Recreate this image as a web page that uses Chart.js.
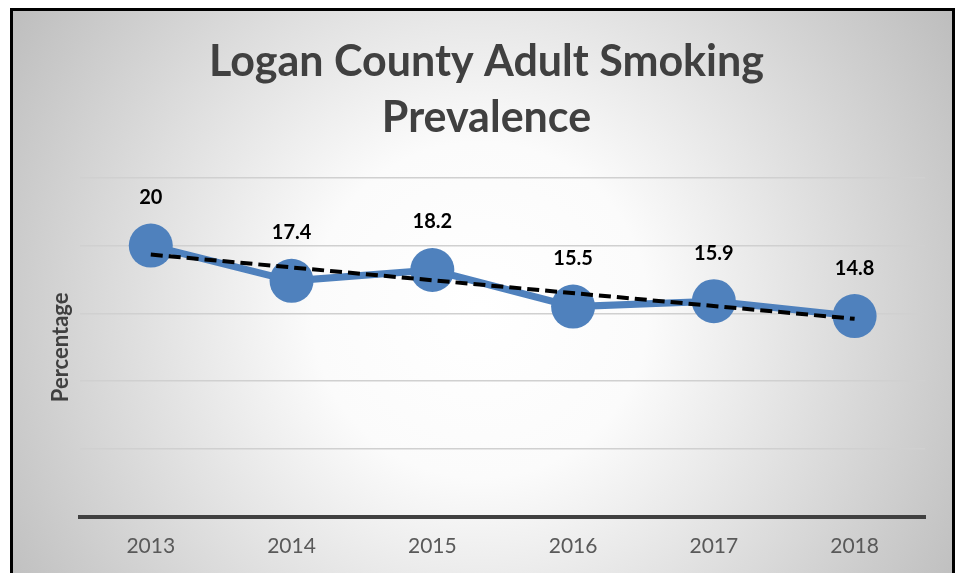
<!DOCTYPE html>
<html><head><meta charset="utf-8">
<script src="https://cdn.jsdelivr.net/npm/chart.js@4/dist/chart.umd.min.js"></script>
<style>html,body{margin:0;padding:0;background:#fff;}canvas{display:block;}</style>
</head><body>
<canvas id="c" width="961" height="573"></canvas>
<script>
const years = ['2013','2014','2015','2016','2017','2018'];
const prevalence = [20, 17.4, 18.2, 15.5, 15.9, 14.8];
const trendline = [19.34, null, null, null, null, 14.6];
const titleLines = ['Logan County Adult Smoking', 'Prevalence'];
const yTitle = 'Percentage';

const FONT = 'Lato, "Open Sans", sans-serif';

const bgPlugin = {
  id: 'bg',
  beforeDraw(chart) {
    const ctx = chart.ctx;
    ctx.save();
    ctx.fillStyle = '#ffffff';
    ctx.fillRect(0, 0, 961, 573);
    const g = ctx.createRadialGradient(480, 310, 0, 480, 310, 560);
    g.addColorStop(0, '#ffffff');
    g.addColorStop(0.3, '#fbfbfb');
    g.addColorStop(1, '#bdbdbd');
    ctx.fillStyle = g;
    ctx.fillRect(11, 10, 943, 600);
    ctx.strokeStyle = '#000';
    ctx.lineWidth = 3;
    ctx.strokeRect(11.5, 9.5, 942, 620);
    ctx.restore();
  }
};

const labelPlugin = {
  id: 'vlabels',
  afterDatasetsDraw(chart) {
    const ctx = chart.ctx;
    const meta = chart.getDatasetMeta(1);
    ctx.save();
    ctx.font = 'bold 20px ' + FONT;
    ctx.fillStyle = '#000';
    ctx.textAlign = 'center';
    ctx.textBaseline = 'middle';
    meta.data.forEach((pt, i) => {
      ctx.fillText(String(prevalence[i]), pt.x, pt.y - 48);
    });
    ctx.restore();
  }
};

new Chart(document.getElementById('c'), {
  type: 'line',
  data: {
    labels: years,
    datasets: [
      {
        label: 'Trend',
        data: trendline,
        spanGaps: true,
        borderColor: '#000',
        borderWidth: 4,
        borderDash: [12, 6],
        pointRadius: 0,
        fill: false,
        order: 0
      },
      {
        label: 'Prevalence',
        data: prevalence,
        borderColor: '#4f81bd',
        backgroundColor: '#4f81bd',
        borderWidth: 7,
        pointRadius: 22,
        pointBorderWidth: 0,
        pointBackgroundColor: '#4f81bd',
        tension: 0,
        fill: false,
        order: 1
      }
    ]
  },
  plugins: [bgPlugin, labelPlugin],
  options: {
    responsive: false,
    animation: false,
    layout: { padding: { left: 48, right: 36, top: 0, bottom: -3 } },
    plugins: {
      legend: { display: false },
      tooltip: { enabled: false },
      title: {
        display: true,
        text: titleLines,
        color: '#404040',
        font: { family: FONT, size: 43, weight: 'bold', lineHeight: 1.3 },
        padding: { top: 34, bottom: 32 }
      }
    },
    scales: {
      x: {
        offset: true,
        grid: { display: false, drawTicks: false },
        border: { display: true, color: '#404040', width: 4 },
        ticks: { color: '#595959', font: { family: FONT, size: 21 }, padding: 17 }
      },
      y: {
        min: 0, max: 25,
        ticks: { display: false, stepSize: 5 },
        grid: { color: '#d0d0d0', lineWidth: 1.5, drawTicks: false },
        border: { display: false },
        title: {
          display: true, text: yTitle, color: '#404040',
          font: { family: FONT, size: 22, weight: 'bold' },
          padding: { top: 0, bottom: 6 }
        }
      }
    }
  }
});
</script>
</body></html>
